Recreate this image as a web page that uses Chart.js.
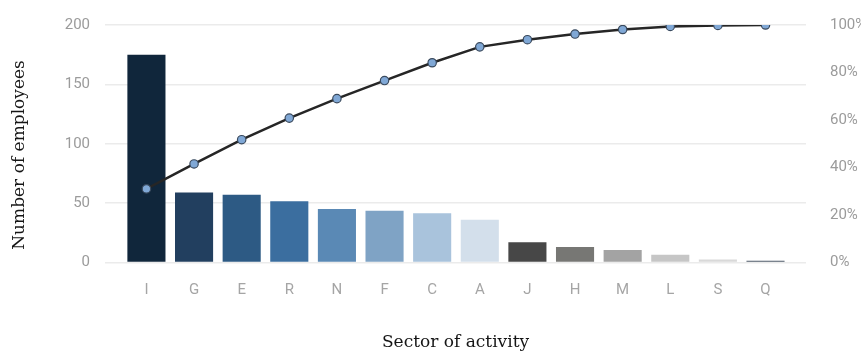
<!DOCTYPE html>
<html>
<head>
<meta charset="utf-8">
<script src="https://cdn.jsdelivr.net/npm/chart.js@4"></script>
<style>
    html, body { margin: 0; padding: 0; background: #fff; }
    #wrap { width: 861px; height: 352px; }
</style>
</head>
<body>
<div id="wrap"><canvas id="pareto" width="861" height="352"></canvas></div>
<script>
/* Pareto chart: employees per sector of activity + cumulative share */
const sectors = ["I", "G", "E", "R", "N", "F", "C", "A", "J", "H", "M", "L", "S", "Q"];
const employees = [175, 59, 57, 51.5, 45, 43.5, 41.5, 36, 17, 13, 10.5, 6.5, 2.5, 1.5];
const cumulativePct = [31, 41.5, 51.7, 60.8, 69, 76.6, 84.1, 90.8, 93.8, 96.2, 98.1, 99.4, 99.8, 100];
const barColors = ["#10263b", "#223f5f", "#2d5a84", "#3b6e9f", "#5a89b5", "#7fa3c5", "#a9c3dc",
                   "#d3dfeb", "#474747", "#777774", "#a3a3a3", "#c6c6c6", "#d9d9d9", "#4e5a68"];
const leftTicks = [0, 50, 100, 150, 200];
const rightTicks = [0, 20, 40, 60, 80, 100];

const tickFont = { family: "Roboto", size: 15 };
const tickColor = "#9b9b9b";

// vertical axis title, drawn by hand so it can sit a bit lower than the plot centre
const yTitle = {
    id: "yTitle",
    afterDraw(chart) {
        const ctx = chart.ctx;
        ctx.save();
        ctx.translate(20, 155);
        ctx.rotate(-Math.PI / 2);
        ctx.font = "17px 'DejaVu Serif'";
        ctx.fillStyle = "#151515";
        ctx.textAlign = "center";
        ctx.textBaseline = "middle";
        ctx.fillText("Number of employees", 0, 0);
        ctx.restore();
    }
};

new Chart(document.getElementById("pareto"), {
    data: {
        datasets: [{
            type: "line",
            order: 0,
            yAxisID: "y1",
            data: cumulativePct.map((v, i) => ({ x: i, y: v })),
            borderColor: "#262626",
            borderWidth: 2.5,
            pointRadius: 4.2,
            pointBorderWidth: 1.2,
            pointBackgroundColor: "#80a8d6",
            pointBorderColor: "#3a4a5e",
            tension: 0
        }, {
            type: "bar",
            order: 1,
            yAxisID: "y",
            data: employees.map((v, i) => ({ x: i, y: v })),
            backgroundColor: barColors,
            barPercentage: 0.8,
            categoryPercentage: 1
        }]
    },
    options: {
        responsive: false,
        animation: false,
        layout: { padding: { top: 22.5, left: 0, right: 0, bottom: 0 } },
        plugins: { legend: { display: false }, tooltip: { enabled: false } },
        scales: {
            x: {
                type: "linear",
                offset: false,
                min: -0.87,
                max: 13.85,
                grid: { display: false },
                border: { display: false },
                afterBuildTicks: axis => { axis.ticks = sectors.map((_, i) => ({ value: i })); },
                afterFit: axis => { axis.height = 89.5; },
                ticks: {
                    padding: 11,
                    color: "#a5a5a5",
                    font: tickFont,
                    autoSkip: false,
                    maxRotation: 0,
                    callback: v => sectors[v]
                },
                title: {
                    display: true,
                    text: "Sector of activity",
                    color: "#151515",
                    font: { family: "DejaVu Serif", size: 17, lineHeight: 1 },
                    padding: { top: 0, bottom: 1 }
                }
            },
            y: {
                position: "left",
                min: 0,
                max: 200,
                afterBuildTicks: axis => { axis.ticks = leftTicks.map(v => ({ value: v })); },
                afterFit: axis => { axis.width = 105; },
                grid: { color: "#ebebeb", lineWidth: 1.5, drawTicks: false },
                border: { display: false },
                ticks: { padding: 15, color: tickColor, font: tickFont }
            },
            y1: {
                position: "right",
                min: 0,
                max: 100,
                afterBuildTicks: axis => { axis.ticks = rightTicks.map(v => ({ value: v })); },
                afterFit: axis => { axis.width = 55; },
                grid: { display: false },
                border: { display: false },
                ticks: { padding: 16, color: tickColor, font: tickFont, callback: v => v + "%" }
            }
        }
    },
    plugins: [yTitle]
});
</script>
</body>
</html>
